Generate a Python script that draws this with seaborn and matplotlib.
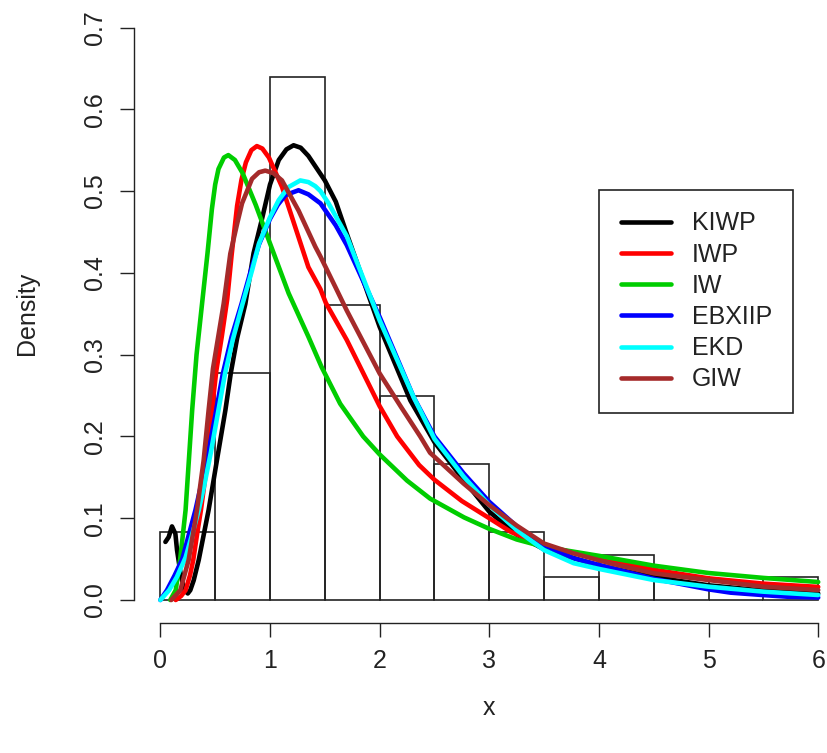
import numpy as np
import pandas as pd
import seaborn as sns
import matplotlib.pyplot as plt

# histogram of the sample (counts per 0.5-wide bin, n = 72)
bin_edges = [0.0, 0.5, 1.0, 1.5, 2.0, 2.5, 3.0, 3.5, 4.0, 4.5, 5.0, 5.5, 6.0]
bin_counts = [3, 10, 23, 13, 9, 6, 3, 1, 2, 1, 0, 1]

# fitted densities
kiwp_x = [0.046, 0.076, 0.106, 0.137, 0.152, 0.17, 0.19, 0.22, 0.25, 0.273, 0.304, 0.35,
          0.44, 0.516, 0.593, 0.643, 0.70, 0.775, 0.85, 0.927, 1.0, 1.08, 1.15,
          1.215, 1.28, 1.35, 1.46, 1.50, 1.60, 1.70, 2.0, 2.28, 2.5, 2.765, 3.0,
          3.25, 3.5, 4.0, 4.5, 5.0, 5.5, 6.0]
kiwp_y = [0.071, 0.077, 0.090, 0.081, 0.061, 0.045, 0.028, 0.012, 0.008, 0.012, 0.024, 0.049,
          0.110, 0.171, 0.232, 0.278, 0.320, 0.362, 0.424, 0.466, 0.508, 0.538, 0.551,
          0.556, 0.553, 0.543, 0.521, 0.513, 0.487, 0.448, 0.334, 0.244, 0.193, 0.147,
          0.108, 0.080, 0.062, 0.042, 0.028, 0.018, 0.0115, 0.008]

iwp_x = [0.14, 0.19, 0.23, 0.27, 0.30, 0.34, 0.37, 0.43, 0.47, 0.51, 0.56, 0.61, 0.65,
         0.70, 0.74, 0.78, 0.83, 0.88, 0.93, 0.99, 1.11, 1.23, 1.35, 1.46, 1.51, 1.70, 2.0,
         2.16, 2.36, 2.5, 2.75, 3.0, 3.2, 3.5, 3.9, 4.5, 5.0, 5.5, 6.0]
iwp_y = [0.0, 0.005, 0.012, 0.030, 0.049, 0.085, 0.110, 0.171, 0.232, 0.280, 0.322,
         0.368, 0.422, 0.482, 0.514, 0.535, 0.550, 0.555, 0.552, 0.541, 0.505, 0.456, 0.407,
         0.380, 0.363, 0.318, 0.237, 0.200, 0.165, 0.147, 0.121, 0.100, 0.083, 0.066,
         0.054, 0.037, 0.0265, 0.020, 0.016]

iw_x = [0.09, 0.14, 0.18, 0.23, 0.26, 0.29, 0.33, 0.38, 0.43, 0.47, 0.50, 0.53, 0.58, 0.62,
        0.68, 0.75, 0.87, 1.0, 1.17, 1.35, 1.47, 1.64, 1.85, 2.0, 2.25, 2.46, 2.77,
        3.0, 3.25, 3.5, 4.0, 4.5, 5.0, 5.5, 6.0]
iw_y = [0.0, 0.012, 0.049, 0.110, 0.171, 0.232, 0.300, 0.362, 0.424, 0.478, 0.508, 0.527,
        0.541, 0.544, 0.538, 0.522, 0.483, 0.436, 0.375, 0.322, 0.285, 0.240, 0.200,
        0.178, 0.146, 0.124, 0.101, 0.087, 0.074, 0.065, 0.054, 0.042, 0.033, 0.027,
        0.022]

ebxiip_x = [0.0, 0.06, 0.13, 0.20, 0.26, 0.32, 0.37, 0.43, 0.50, 0.57, 0.65, 0.74,
            0.83, 0.90, 1.0, 1.07, 1.14, 1.26, 1.35, 1.46, 1.60, 1.70, 2.0, 2.31, 2.5,
            2.765, 3.0, 3.25, 3.5, 3.77, 4.0, 4.5, 5.0, 5.2, 5.5, 5.72, 6.0]
ebxiip_y = [0.0, 0.012, 0.030, 0.050, 0.080, 0.110, 0.140, 0.175, 0.225, 0.277, 0.322,
            0.362, 0.405, 0.435, 0.466, 0.483, 0.495, 0.501, 0.496, 0.485, 0.458, 0.434,
            0.346, 0.248, 0.200, 0.155, 0.120, 0.090, 0.067, 0.051, 0.043, 0.026, 0.013,
            0.009, 0.006, 0.004, 0.003]

ekd_x = [0.0, 0.08, 0.15, 0.23, 0.30, 0.35, 0.40, 0.46, 0.52, 0.59, 0.66, 0.745, 0.836,
         0.90, 1.0, 1.08, 1.17, 1.276, 1.35, 1.413, 1.46, 1.534, 1.70, 2.0, 2.31, 2.5,
         2.765, 3.0, 3.25, 3.5, 3.77, 4.0, 4.5, 5.0, 5.5, 6.0]
ekd_y = [0.0, 0.012, 0.028, 0.052, 0.085, 0.110, 0.140, 0.180, 0.225, 0.277, 0.318,
         0.360, 0.403, 0.436, 0.468, 0.489, 0.505, 0.513, 0.511, 0.506, 0.500, 0.485,
         0.445, 0.342, 0.248, 0.197, 0.151, 0.116, 0.0855, 0.061, 0.045, 0.038, 0.0244,
         0.0163, 0.0102, 0.0061]

giw_x = [0.10, 0.182, 0.258, 0.334, 0.395, 0.44, 0.48, 0.577, 0.638, 0.70, 0.745, 0.836,
         0.90, 0.957, 1.03, 1.109, 1.261, 1.413, 1.46, 1.595, 1.70, 2.0, 2.2, 2.37, 2.46,
         2.765, 3.0, 3.25, 3.5, 3.77, 4.1, 4.5, 5.0, 5.5, 6.0]
giw_y = [0.0, 0.012, 0.049, 0.110, 0.171, 0.232, 0.283, 0.362, 0.4235, 0.460, 0.485,
         0.515, 0.523, 0.525, 0.522, 0.513, 0.476, 0.432, 0.420, 0.383, 0.354, 0.277,
         0.235, 0.200, 0.180, 0.1425, 0.116, 0.091, 0.069, 0.057, 0.045, 0.0326, 0.0244,
         0.0163, 0.0122]

models = ['KIWP', 'IWP', 'IW', 'EBXIIP', 'EKD', 'GIW']
model_colors = ['black', '#FF0000', '#00CD00', '#0000FF', '#00FFFF', '#A52A2A']
curves = [(kiwp_x, kiwp_y), (iwp_x, iwp_y), (iw_x, iw_y),
          (ebxiip_x, ebxiip_y), (ekd_x, ekd_y), (giw_x, giw_y)]

sns.set_style('white')
plt.rcParams['font.family'] = ['Liberation Sans', 'DejaVu Sans']
FS = 18

fig = plt.figure(figsize=(8.28, 7.53), dpi=100)
# plot region in pixels: x 133.7..828, y 4.6..622.9 (from top)
ax = fig.add_axes([133.7 / 828, (753 - 622.9) / 753, (828 - 133.7) / 828, 618.3 / 753])

mids = [(a + b) / 2 for a, b in zip(bin_edges[:-1], bin_edges[1:])]
hist_df = pd.DataFrame({'x': mids, 'n': bin_counts})
sns.histplot(data=hist_df, x='x', weights='n', bins=bin_edges, stat='density',
             fill=False, color='#222222', linewidth=1.2, ax=ax, zorder=1)

for name, col, (cx, cy) in zip(models, model_colors, curves):
    sns.lineplot(x=np.array(cx), y=np.array(cy), color=col, linewidth=3.3,
                 label=name, ax=ax, solid_capstyle='round', solid_joinstyle='round',
                 zorder=2)

ax.set_xlim(-0.2432, (828 - 160) / 109.7)
ax.set_ylim(-0.028, 0.728)

# R-style axes
for side in ['top', 'right']:
    ax.spines[side].set_visible(False)
ax.spines['left'].set_bounds(0, 0.7)
ax.spines['bottom'].set_bounds(0, 6)
for side in ['left', 'bottom']:
    ax.spines[side].set_linewidth(1.0)
    ax.spines[side].set_color('#222222')

ax.set_xticks(range(0, 7))
ax.set_xticklabels([str(i) for i in range(0, 7)])
yt = [0.0, 0.1, 0.2, 0.3, 0.4, 0.5, 0.6, 0.7]
ax.set_yticks(yt)
ax.set_yticklabels(['%.1f' % v for v in yt], rotation=90, va='center')
ax.tick_params(axis='both', direction='out', length=10, width=1.0, color='#222222',
               labelsize=FS, labelcolor='#222222', bottom=True, left=True,
               top=False, right=False)
ax.tick_params(axis='x', pad=9)
ax.tick_params(axis='y', pad=9)
ax.grid(False)

ax.set_xlabel('x', fontsize=FS, color='#222222')
ax.set_ylabel('Density', fontsize=FS, color='#222222')
ax.xaxis.label.set_va('center')
ax.yaxis.label.set_va('center')
ax.xaxis.set_label_coords((489 - 133.7) / 694.3, (622.9 - 708) / 618.3)
ax.yaxis.set_label_coords((27 - 133.7) / 694.3, (622.9 - 313.7) / 618.3)

leg = ax.legend(loc='upper left', bbox_to_anchor=(599.3 / 828, 1 - 190 / 753),
                bbox_transform=fig.transFigure, borderaxespad=0, fontsize=FS,
                frameon=True, fancybox=False, framealpha=1, edgecolor='#222222',
                handlelength=2.0, handletextpad=0.85, borderpad=0.85,
                labelspacing=0.29)
leg.get_frame().set_linewidth(1.2)
for t in leg.get_texts():
    t.set_color('#222222')

fig.savefig('out.png', dpi=100)
